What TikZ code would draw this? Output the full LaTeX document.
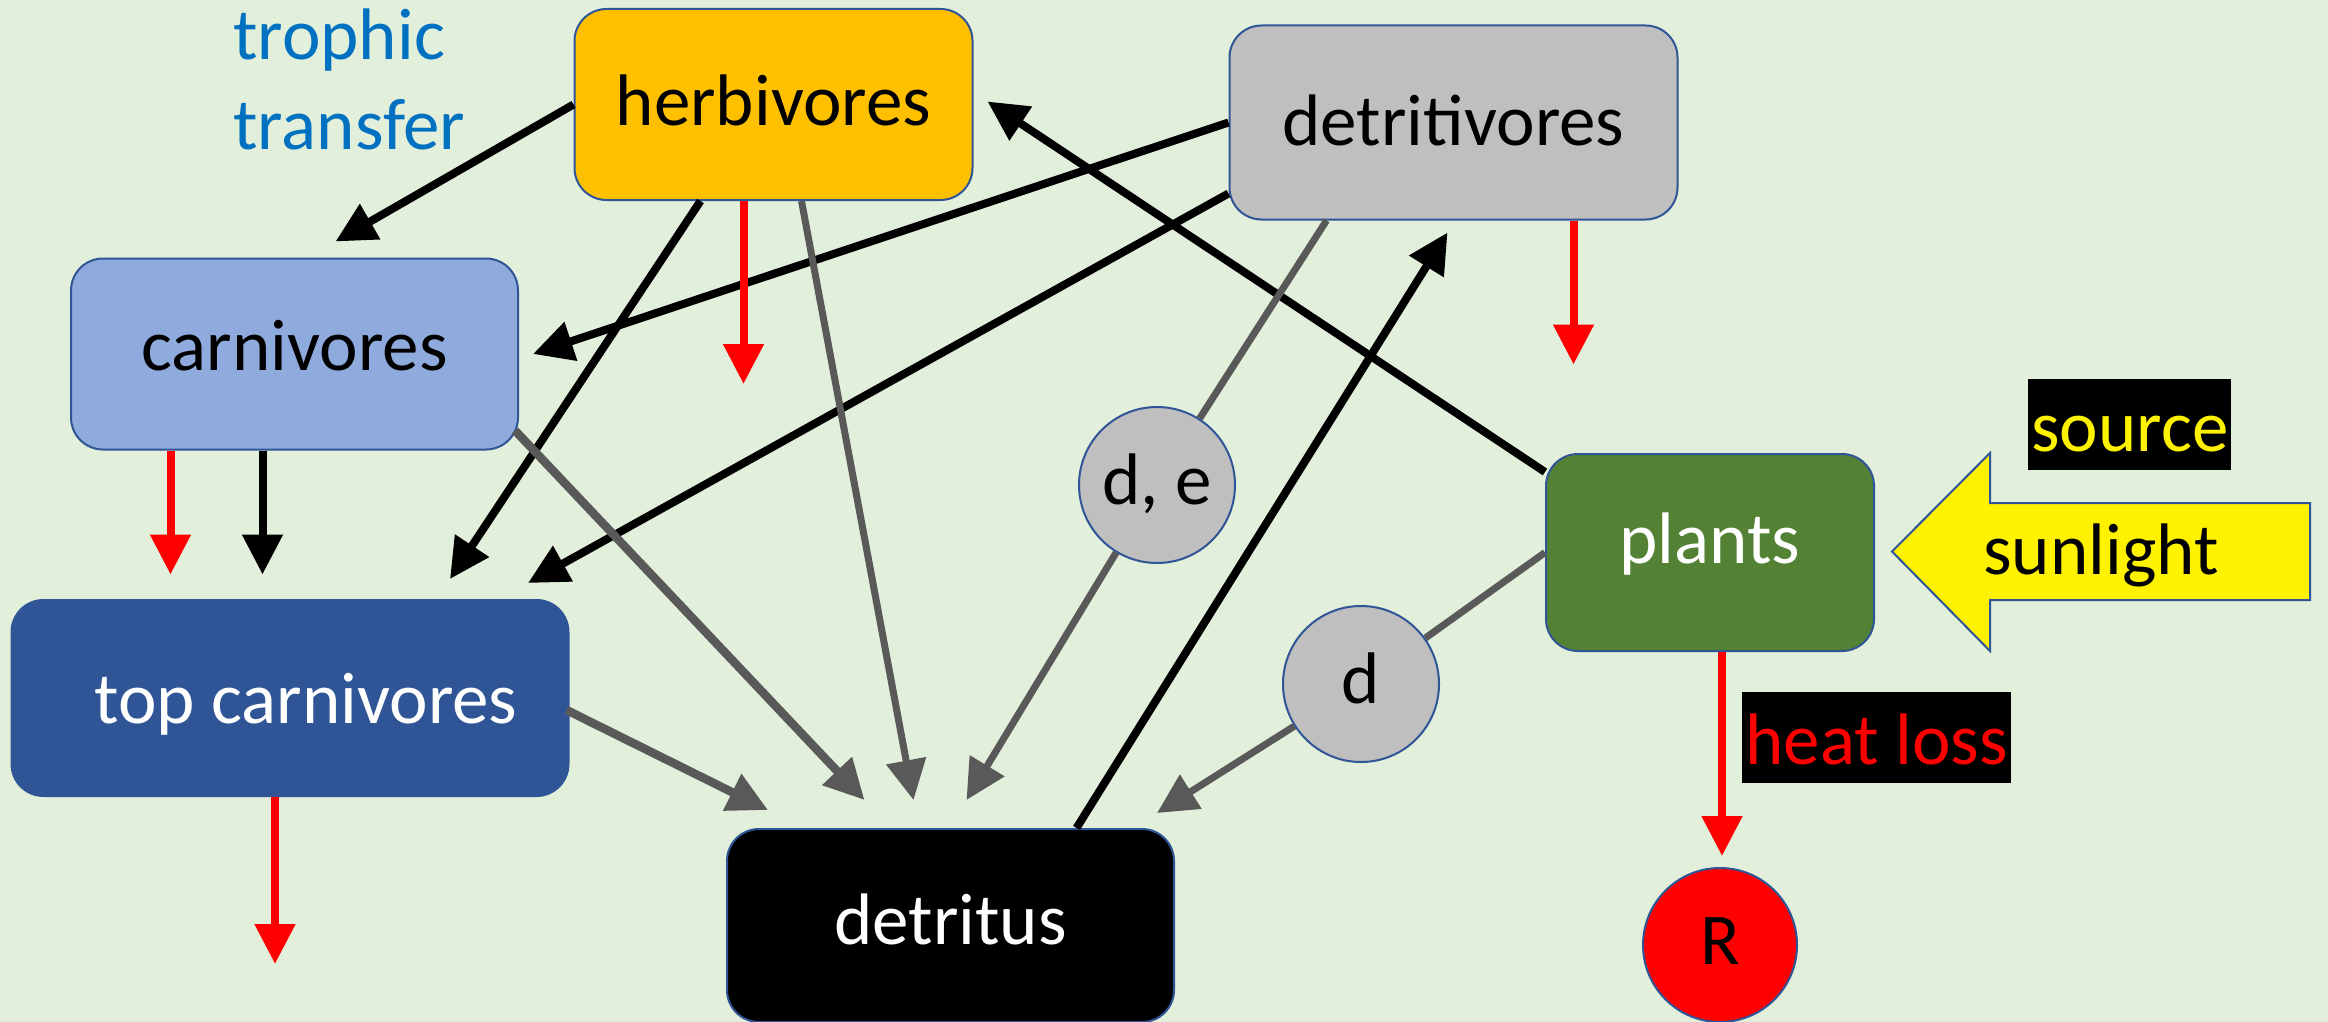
\documentclass[tikz,border=0pt]{standalone}
\usepackage{fontspec}
\setmainfont{Carlito}
\usetikzlibrary{arrows.meta}

\definecolor{bgc}{HTML}{E2EFDA}
\definecolor{edgeblue}{HTML}{2F5597}
\definecolor{herbc}{HTML}{FFC000}
\definecolor{greyc}{HTML}{BFBFBF}
\definecolor{carnc}{HTML}{8FAADC}
\definecolor{topc}{HTML}{2F5597}
\definecolor{plantc}{HTML}{548235}
\definecolor{flowgrey}{HTML}{595959}
\definecolor{trophc}{HTML}{0070C0}

\tikzset{
  lbl/.style={font=\fontsize{36.5}{45}\selectfont},
  box/.style={lbl, draw=edgeblue, line width=1pt, rounded corners=16pt,
    inner sep=0pt, text height=26pt, text depth=7pt},
  blob/.style={lbl, circle, draw=edgeblue, line width=1pt, fill=greyc,
    inner sep=0pt, minimum size=78pt, text height=26pt, text depth=7pt},
  tag/.style={lbl, fill=black, inner xsep=1.5pt, inner ysep=0pt,
    text height=36pt, text depth=9.5pt, anchor=north west},
  tip/.style={-{Triangle[length=20pt,width=19.5pt]}},
  feed/.style={tip, line width=4pt, black},
  waste/.style={tip, line width=3.5pt, flowgrey},
  heavywaste/.style={tip, line width=4.25pt, flowgrey},
  link/.style={line width=3.5pt, flowgrey},
  loss/.style={tip, line width=4pt, red},
}

\begin{document}
\begin{tikzpicture}[x=0.5pt, y=-0.5pt]
  % canvas
  \fill[bgc] (0,0) rectangle (2328,1022);
  \useasboundingbox (0,0) rectangle (2328,1022);

  % compartments
  \node[box, fill=herbc, text height=28pt, minimum width=199pt, minimum height=95.5pt] (herb) at (773.5,104.5) {herbivores};
  \node[box, fill=greyc, text height=30pt, minimum width=224pt, minimum height=97pt] (detv) at (1453.5,122.5) {detritivores};
  \node[box, fill=carnc, text height=23.5pt, minimum width=223.5pt, minimum height=95.5pt] (carn) at (294.5,354) {carnivores};
  \node[box, fill=topc, text=white, text height=32pt, minimum width=278.5pt, minimum height=98pt] (top) at (290,698) {\hspace*{16pt}top carnivores};
  \node[box, fill=black, text=white, minimum width=223.5pt, minimum height=96.5pt] (det) at (950.5,925.5) {detritus};
  \node[box, fill=plantc, text=white, text height=17.5pt, minimum width=164pt, minimum height=98.5pt] (plants) at (1710,552.5) {plants};

  % loss markers
  \node[blob] (de) at (1157,485) {d, e};
  \node[blob] (dd) at (1361,684) {d};
  \node[blob, fill=red, minimum size=77pt] (R) at (1720,945) {R};

  % incoming light
  \filldraw[fill=yellow, draw=edgeblue, line width=1pt]
    (1892,551.5) -- (1990,453) -- (1990,503) -- (2310,503) -- (2310,600)
    -- (1990,600) -- (1990,651) -- cycle;
  \node[lbl, inner sep=0pt, text height=26pt, text depth=7pt] (sun) at (2101,555.5) {sunlight};
  \node[tag, text=yellow] (src) at (2028,379) {source};
  \node[tag, text=red] (heat) at (1742,692) {heat loss};

  \node[lbl, text=trophc, align=left, anchor=base west, inner sep=0pt] (troph) at (233,149) {trophic\\transfer};

  % trophic transfer
  \draw[feed] (herb.west) -- ([shift={(41,-16)}]carn.north);
  \draw[feed] ([shift={(-73,0)}]herb.south) -- ([shift={(160,-20)}]top.north);
  \draw[feed] (detv.west) -- ([shift={(14,0)}]carn.east);
  \draw[feed] ([shift={(0,71)}]detv.west) -- ([shift={(238,-16)}]top.north);
  \draw[feed] ([shift={(126,0)}]det.north) -- ([shift={(-6,12)}]detv.south);
  \draw[feed] ([shift={(0,19)}]plants.north west) -- ([shift={(14,-3)}]herb.east);
  \draw[feed] ([shift={(-32,0)}]carn.south) -- ++(0,124);

  % flows to detritus
  \draw[waste] ([shift={(28,0)}]herb.south) -- ([shift={(-37,-28)}]det.north);
  \draw[link] ([shift={(-127,0)}]detv.south) -- (de);
  \draw[waste] (de) -- ([shift={(16,-28)}]det.north);
  \draw[link] (plants.west) -- (dd);
  \draw[waste] (dd) -- ([shift={(-18,-15)}]det.north east);
  \draw[heavywaste] ([shift={(-4,-20)}]carn.south east) -- ([shift={(-86,-28)}]det.north);
  \draw[heavywaste] ([shift={(-3,12)}]top.east) -- ([shift={(42,-18)}]det.north west);

  % respiration
  \draw[loss] ([shift={(-30,0)}]herb.south) -- ++(0,183);
  \draw[loss] ([shift={(120,0)}]detv.south) -- ++(0,144);
  \draw[loss] ([shift={(-124,0)}]carn.south) -- ++(0,124);
  \draw[loss] ([shift={(-15,0)}]top.south) -- ++(0,167);
  \draw[loss] ([shift={(12,0)}]plants.south) -- ([shift={(2,-11)}]R.north);
\end{tikzpicture}
\end{document}
